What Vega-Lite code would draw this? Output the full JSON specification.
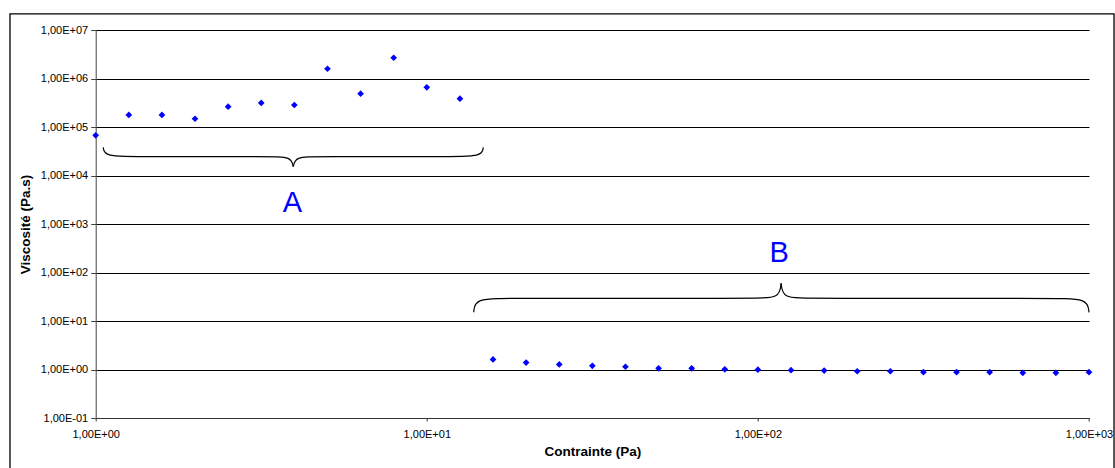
{
  "$schema": "https://vega.github.io/schema/vega-lite/v6.json",
  "width": 993.3,
  "height": 388,
  "autosize": {"type": "none"},
  "padding": {"left": 95.7, "top": 30, "right": 26, "bottom": 50},
  "background": "white",
  "config": {"view": {"stroke": null}, "font": "Liberation Sans"},
  "datasets": {
    "points": [
      {"x": 1, "y": 67400}, {"x": 1.259, "y": 177000}, {"x": 1.585, "y": 177000},
      {"x": 1.995, "y": 148000}, {"x": 2.512, "y": 262000}, {"x": 3.162, "y": 313000},
      {"x": 3.981, "y": 284000}, {"x": 5.012, "y": 1590000}, {"x": 6.31, "y": 486000},
      {"x": 7.943, "y": 2680000}, {"x": 10, "y": 659000}, {"x": 12.59, "y": 383000},
      {"x": 15.85, "y": 1.61}, {"x": 19.95, "y": 1.39}, {"x": 25.12, "y": 1.27},
      {"x": 31.62, "y": 1.19}, {"x": 39.81, "y": 1.14}, {"x": 50.12, "y": 1.06},
      {"x": 63.1, "y": 1.06}, {"x": 79.43, "y": 1.01}, {"x": 100, "y": 0.99},
      {"x": 125.9, "y": 0.97}, {"x": 158.5, "y": 0.95}, {"x": 199.5, "y": 0.92},
      {"x": 251.2, "y": 0.92}, {"x": 316.2, "y": 0.88}, {"x": 398.1, "y": 0.88},
      {"x": 501.2, "y": 0.88}, {"x": 631, "y": 0.855}, {"x": 794.3, "y": 0.855},
      {"x": 1000, "y": 0.88}
    ],
    "braces": [
      {"seg": "A1", "i": 1, "x": 1.054, "y": 38100},
      {"seg": "A1", "i": 2, "x": 1.063, "y": 24400},
      {"seg": "A1", "i": 3, "x": 1.361, "y": 24400},
      {"seg": "A1", "i": 4, "x": 3.36, "y": 24400},
      {"seg": "A1", "i": 5, "x": 3.89, "y": 24400},
      {"seg": "A1", "i": 6, "x": 3.95, "y": 15200},
      {"seg": "A2", "i": 1, "x": 3.95, "y": 15200},
      {"seg": "A2", "i": 2, "x": 4.015, "y": 24400},
      {"seg": "A2", "i": 3, "x": 4.647, "y": 24400},
      {"seg": "A2", "i": 4, "x": 11.48, "y": 24400},
      {"seg": "A2", "i": 5, "x": 14.69, "y": 24400},
      {"seg": "A2", "i": 6, "x": 14.81, "y": 38100},
      {"seg": "B1", "i": 1, "x": 13.86, "y": 15.1},
      {"seg": "B1", "i": 2, "x": 13.97, "y": 29.4},
      {"seg": "B1", "i": 3, "x": 17.84, "y": 29.4},
      {"seg": "B1", "i": 4, "x": 98.0, "y": 29.4},
      {"seg": "B1", "i": 5, "x": 116.2, "y": 29.4},
      {"seg": "B1", "i": 6, "x": 117.5, "y": 59.9},
      {"seg": "B2", "i": 1, "x": 117.5, "y": 59.9},
      {"seg": "B2", "i": 2, "x": 118.9, "y": 29.4},
      {"seg": "B2", "i": 3, "x": 141.1, "y": 29.4},
      {"seg": "B2", "i": 4, "x": 775, "y": 29.4},
      {"seg": "B2", "i": 5, "x": 990, "y": 29.4},
      {"seg": "B2", "i": 6, "x": 1000, "y": 15.1}
    ],
    "labels": [
      {"x": 3.93, "y": 1742, "label": "A"},
      {"x": 116, "y": 167, "label": "B"}
    ]
  },
  "layer": [
    {
      "data": {"name": "points"},
      "mark": {"type": "point", "shape": "diamond", "filled": true, "color": "#0000FF", "size": 45, "opacity": 1},
      "encoding": {
        "x": {
          "field": "x", "type": "quantitative",
          "scale": {"type": "log", "domain": [1, 1000]},
          "axis": {
            "title": "Contrainte (Pa)",
            "values": [1, 10, 100, 1000],
            "labelExpr": "'1,00E' + (round(log(datum.value)/LN10) < 0 ? '-' : '+') + '0' + abs(round(log(datum.value)/LN10))",
            "grid": false,
            "tickSize": 3,
            "labelPadding": 7,
            "labelFontSize": 11,
            "labelColor": "black",
            "labelFlush": false,
            "labelOverlap": false,
            "titleFontSize": 13.5,
            "titleFontWeight": "bold",
            "titleColor": "black",
            "titlePadding": 5,
            "domainColor": "#333",
            "tickColor": "#333"
          }
        },
        "y": {
          "field": "y", "type": "quantitative",
          "scale": {"type": "log", "domain": [0.1, 10000000]},
          "axis": {
            "title": "Viscosité (Pa.s)",
            "values": [0.1, 1, 10, 100, 1000, 10000, 100000, 1000000, 10000000],
            "labelExpr": "'1,00E' + (round(log(datum.value)/LN10) < 0 ? '-' : '+') + '0' + abs(round(log(datum.value)/LN10))",
            "grid": true,
            "gridColor": "black",
            "gridOpacity": 1,
            "gridWidth": 1,
            "tickSize": 5,
            "labelPadding": 3,
            "labelFontSize": 11,
            "labelColor": "black",
            "labelFlush": false,
            "labelOverlap": false,
            "titleFontSize": 13.5,
            "titleFontWeight": "bold",
            "titleColor": "black",
            "titlePadding": 8,
            "domainColor": "#444",
            "tickColor": "#444"
          }
        }
      }
    },
    {
      "data": {"name": "braces"},
      "mark": {"type": "line", "interpolate": "basis", "color": "black", "strokeWidth": 1.2},
      "encoding": {
        "x": {"field": "x", "type": "quantitative", "scale": {"type": "log", "domain": [1, 1000]}},
        "y": {"field": "y", "type": "quantitative", "scale": {"type": "log", "domain": [0.1, 10000000]}},
        "detail": {"field": "seg"},
        "order": {"field": "i"}
      }
    },
    {
      "data": {"name": "labels"},
      "mark": {"type": "text", "fontSize": 29, "color": "#0000FF", "align": "center", "baseline": "alphabetic"},
      "encoding": {
        "x": {"field": "x", "type": "quantitative", "scale": {"type": "log", "domain": [1, 1000]}},
        "y": {"field": "y", "type": "quantitative", "scale": {"type": "log", "domain": [0.1, 10000000]}},
        "text": {"field": "label"}
      }
    },
    {
      "data": {"values": [{}]},
      "mark": {"type": "rect", "fill": null, "stroke": "black", "strokeWidth": 1.3},
      "encoding": {
        "x": {"datum": 0.551, "type": "quantitative", "scale": {"type": "log", "domain": [1, 1000]}},
        "x2": {"datum": 1190},
        "y": {"datum": 21400000, "type": "quantitative", "scale": {"type": "log", "domain": [0.1, 10000000]}},
        "y2": {"datum": 0.005}
      }
    }
  ]
}
